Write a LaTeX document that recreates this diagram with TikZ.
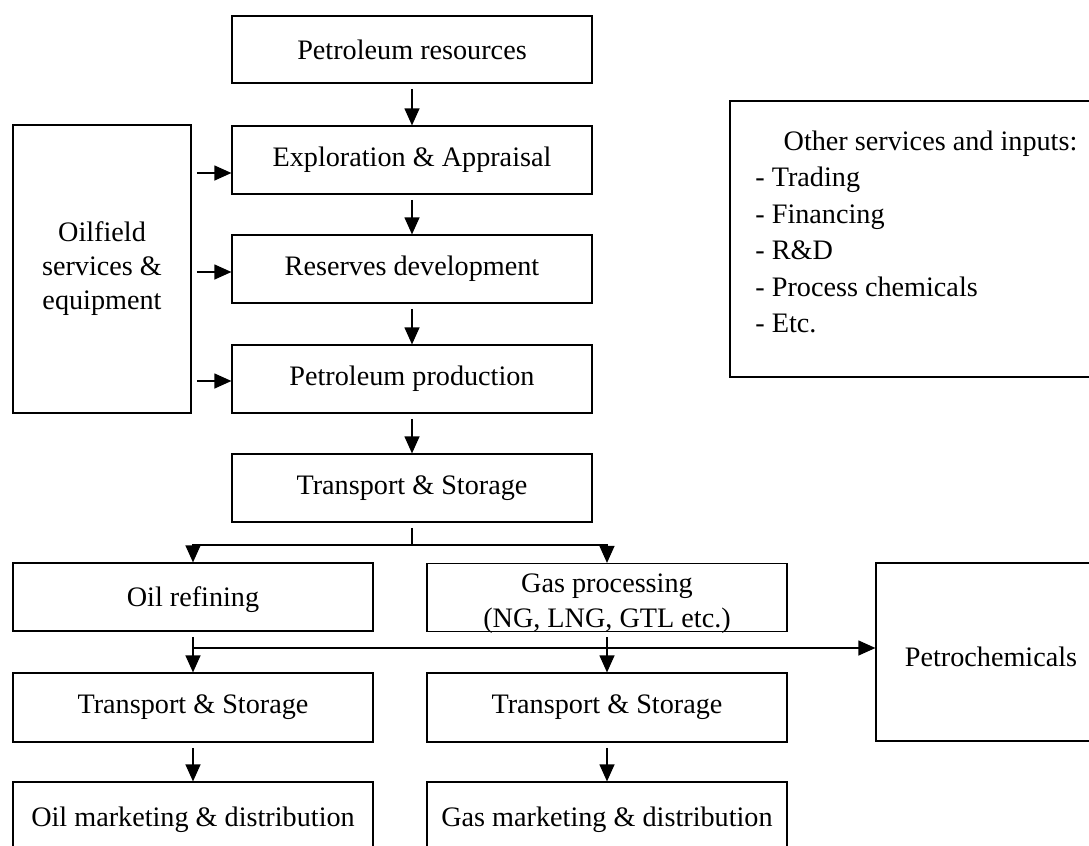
\documentclass[tikz,border=0pt]{standalone}
\usepackage{fontspec}
\setmainfont{Liberation Serif}
\usetikzlibrary{arrows.meta,calc}
\begin{document}
\begin{tikzpicture}[x=0.5pt,y=-0.5pt,
  every node/.style={font=\fontsize{14.1}{17.5}\selectfont},
  box/.style={draw,line width=0.6pt,inner sep=0pt,minimum width=180pt,minimum height=34pt,align=center},
  line/.style={line width=0.6pt},
  arr/.style={line width=0.6pt,-{Triangle[length=8.5pt,width=7.5pt]},shorten <=2.6pt},
  txt/.style={anchor=base,inner sep=0pt}]
\useasboundingbox (0,0) rectangle (1089,846);
\clip (0,0) rectangle (1089,846);
% main column
\node[box,minimum height=33.5pt] (res)  at (412,49.5) {Petroleum resources};
\node[box] (expl) at (412,160) {Exploration \& Appraisal};
\node[box] (resv) at (412,269) {Reserves development};
\node[box] (prod) at (412,379) {Petroleum production};
\node[box] (ts)   at (412,488) {Transport \& Storage};
% oilfield services
\node[box,minimum width=89pt,minimum height=144pt,font=\fontsize{14.1}{17}\selectfont] (ofs) at (102,269) {Oilfield\\services \&\\equipment};
% lower columns
\node[box] (oil) at (193,597) {\raisebox{-1.5pt}[\height][\depth]{Oil refining}};
\node[box] (gas) at (607,597.5) {};
\node[txt] (g1) at (607,592) {Gas processing};
\node[txt] (g2) at (607,627) {(NG, LNG, GTL etc.)};
\node[box,minimum height=34.5pt] (ts1) at (193,707.5) {Transport \& Storage};
\node[box,minimum height=34.5pt] (ts2) at (607,707.5) {Transport \& Storage};
\node[box,minimum height=35pt] (mk1) at (193,817) {\raisebox{-1.5pt}[\height][\depth]{Oil marketing \& distribution}};
\node[box,minimum height=35pt] (mk2) at (607,817) {\raisebox{-1.5pt}[\height][\depth]{Gas marketing \& distribution}};
% petrochemicals
\node[box,minimum width=115pt,minimum height=89pt] (pet) at (991,652) {\raisebox{-2.5pt}[\height][\depth]{Petrochemicals}};
% other services
\node[box,minimum width=200.5pt,minimum height=138pt] (oth) at (930.5,239) {};
\node[txt] (oh) at (930.5,150) {Other services and inputs:};
\node[txt,anchor=base west] (o1) at (755,186) {- Trading};
\node[txt,anchor=base west] (o2) at (755,223) {- Financing};
\node[txt,anchor=base west] (o3) at (755,259) {- R\&D};
\node[txt,anchor=base west] (o4) at (755,296) {- Process chemicals};
\node[txt,anchor=base west] (o5) at (755,332) {- Etc.};
% arrows main column
\draw[arr] (res) -- (expl);
\draw[arr] (expl) -- (resv);
\draw[arr] (resv) -- (prod);
\draw[arr] (prod) -- (ts);
% oilfield arrows
\coordinate (ya) at (0,173);
\coordinate (yb) at (0,272);
\coordinate (yc) at (0,381);
\draw[arr] (ofs.east |- ya) -- (expl.west |- ya);
\draw[arr] (ofs.east |- yb) -- (resv.west |- yb);
\draw[arr] (ofs.east |- yc) -- (prod.west |- yc);
% branch
\coordinate (j1) at (412,545);
\draw[line,shorten <=2.6pt] (ts.south) -- (j1);
\draw[arr,shorten <=0pt] (j1) -| (oil.north);
\draw[arr,shorten <=0pt] (j1) -| (gas.north);
% lower arrows
\coordinate (j2) at (0,648);
\draw[arr] (oil) -- (ts1);
\draw[arr] (gas) -- (ts2);
\draw[arr,shorten <=0pt] (oil.south |- j2) -- (pet.west |- j2);
\draw[arr] (ts1) -- (mk1);
\draw[arr] (ts2) -- (mk2);
\end{tikzpicture}
\end{document}
